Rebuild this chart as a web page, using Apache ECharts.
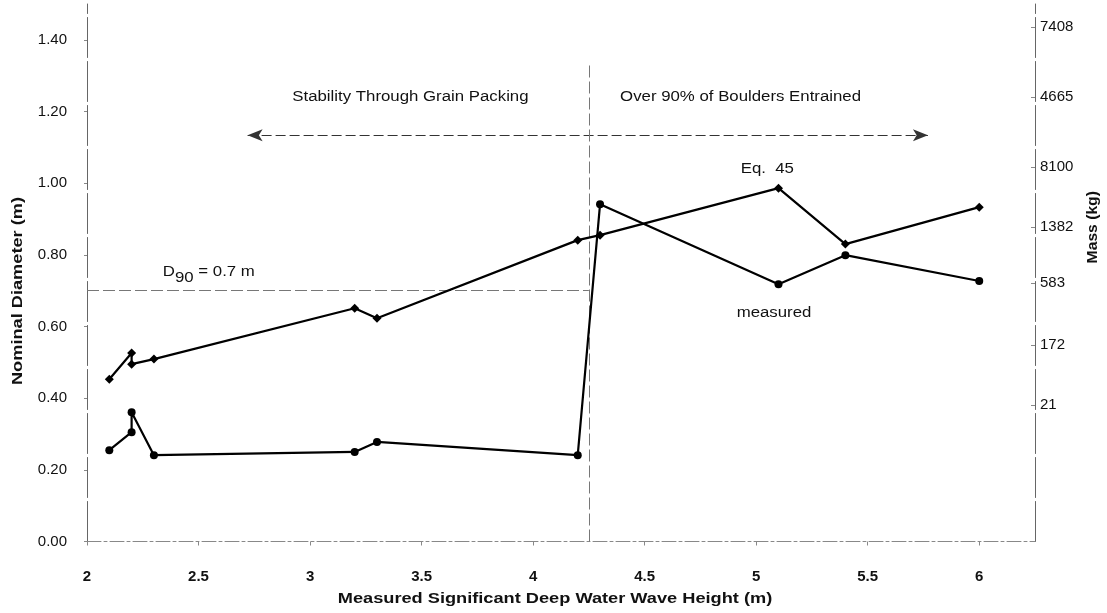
<!DOCTYPE html>
<html><head><meta charset="utf-8">
<script src="https://cdn.jsdelivr.net/npm/echarts@6/dist/echarts.min.js"></script>
<style>html,body{margin:0;padding:0;background:#fff}#c{width:1107px;height:613px}</style>
</head><body><div id="c"></div>
<script>
// ---- data ----
const waveHeight = [2.1, 2.2, 2.2, 2.3, 3.2, 3.3, 4.2, 4.3, 5.1, 5.4, 6.0];
const eq45 =       [0.453, 0.526, 0.495, 0.509, 0.651, 0.623, 0.841, 0.855, 0.986, 0.830, 0.933];
const measured =   [0.255, 0.305, 0.361, 0.241, 0.250, 0.278, 0.241, 0.941, 0.718, 0.799, 0.727];
const xTicks = [2, 2.5, 3, 3.5, 4, 4.5, 5, 5.5, 6];
const diameterTicks = [0, 0.2, 0.4, 0.6, 0.8, 1.0, 1.2, 1.4];
const massTickLabels = ['7408', '4665', '8100', '1382', '583', '172', '21'];
const massTickPositions = [1.435, 1.240, 1.045, 0.877, 0.721, 0.548, 0.380];
const d90 = 0.7;
const regionBoundary = 4.25;
const arrowSpan = [2.72, 5.77];
const arrowLevel = 1.134;
const regionTop = 1.33;

const FONT = 'Liberation Sans, Arial, sans-serif';
const chart = echarts.init(document.getElementById('c'));

function pairs(xs, ys) { return xs.map((x, i) => [x, ys[i]]); }

const option = {
  backgroundColor: '#fff',
  animation: false,
  grid: { left: 87, right: 72, top: 4, bottom: 71.5 },
  xAxis: {
    type: 'value', min: 2, max: 6.25,
    axisLine: { show: true, lineStyle: { color: '#888', width: 1, type: [14, 3, 3, 3] } },
    axisTick: { show: true, length: 4, inside: false, customValues: xTicks, lineStyle: { color: '#888' } },
    axisLabel: { customValues: xTicks, margin: 28, fontFamily: FONT, fontSize: 15, fontWeight: 'bold', color: '#111',
      formatter: v => String(v) },
    splitLine: { show: false }
  },
  yAxis: [{
    type: 'value', min: 0, max: 1.5, position: 'left',
    axisLine: { show: true, lineStyle: { color: '#666', width: 1, type: [40, 4] } },
    axisTick: { show: true, length: 3, customValues: diameterTicks, lineStyle: { color: '#888' } },
    axisLabel: { customValues: diameterTicks, margin: 20, fontFamily: FONT, fontSize: 15, color: '#111',
      formatter: v => v.toFixed(2) },
    splitLine: { show: false }
  }, {
    type: 'value', min: 0, max: 1.5, position: 'right',
    axisLine: { show: true, lineStyle: { color: '#666', width: 1, type: [40, 4] } },
    axisTick: { show: true, length: 4, inside: true, customValues: massTickPositions, lineStyle: { color: '#888' } },
    axisLabel: { customValues: massTickPositions, margin: 5, fontFamily: FONT, fontSize: 15, color: '#111',
      formatter: v => {
        let best = 0, bd = Infinity;
        massTickPositions.forEach((p, i) => { const d = Math.abs(p - v); if (d < bd) { bd = d; best = i; } });
        return massTickLabels[best];
      } },
    splitLine: { show: false }
  }],
  series: [{
    name: 'Eq. 45', type: 'line', data: pairs(waveHeight, eq45),
    symbol: 'diamond', symbolSize: 9, showAllSymbol: true,
    lineStyle: { color: '#000', width: 2.2 }, itemStyle: { color: '#000' },
    z: 5,
    markLine: {
      silent: true, symbol: ['arrow', 'arrow'], symbolSize: [9, 15],
      label: { show: false },
      lineStyle: { color: '#333', width: 1, type: [10, 4] },
      data: [[{ coord: [arrowSpan[0], arrowLevel] }, { coord: [arrowSpan[1], arrowLevel] }]]
    }
  }, {
    name: 'measured', type: 'line', data: pairs(waveHeight, measured),
    symbol: 'circle', symbolSize: 8, showAllSymbol: true,
    lineStyle: { color: '#000', width: 2.2 }, itemStyle: { color: '#000' },
    z: 5,
    markLine: {
      silent: true, symbol: 'none', label: { show: false },
      lineStyle: { color: '#777', width: 1, type: [12, 4] },
      data: [
        [{ coord: [2, d90] }, { coord: [regionBoundary, d90] }],
        [{ coord: [regionBoundary, 0] }, { coord: [regionBoundary, regionTop] }]
      ]
    }
  }]
};
chart.setOption(option);

// annotation text anchored in data coordinates (the scanned lettering is wide, hence scaleX)
const annotations = [
  { text: 'Stability Through Grain Packing', at: [3.45, 1.24] },
  { text: 'Over 90% of Boulders Entrained', at: [4.93, 1.24] },
  { text: 'Eq.  45', at: [5.05, 1.038] },
  { text: 'measured', at: [5.08, 0.637] }
];
const P = c => chart.convertToPixel({ xAxisIndex: 0, yAxisIndex: 0 }, c);
const graphics = annotations.map(a => {
  const p = P(a.at);
  return { type: 'text', x: p[0], y: p[1], scaleX: 1.2, silent: true,
    style: { text: a.text, fill: '#111', font: '14px ' + FONT, textAlign: 'center', textVerticalAlign: 'middle' } };
});
const dp = P([2.34, 0.751]);
graphics.push({ type: 'text', x: dp[0], y: dp[1], scaleX: 1.2, silent: true,
  style: { text: '{a|D}{s|90}{a| = 0.7 m}', textVerticalAlign: 'middle',
    rich: { a: { font: '14px ' + FONT, fill: '#111' }, s: { font: '14px ' + FONT, fill: '#111', padding: [12, 0, 0, 0] } } } });

// axis titles
const gridRect = { left: 87, right: 1035, top: 4, bottom: 541.5 };
graphics.push({ type: 'text', x: 555, y: gridRect.bottom + 58, scaleX: 1.3, silent: true,
  style: { text: 'Measured Significant Deep Water Wave Height (m)', font: 'bold 14px ' + FONT, fill: '#111',
    textAlign: 'center', textVerticalAlign: 'middle' } });
graphics.push({ type: 'text', x: gridRect.left - 69, y: 291, rotation: Math.PI / 2, scaleX: 1.3, silent: true,
  style: { text: 'Nominal Diameter (m)', font: 'bold 14px ' + FONT, fill: '#111', textAlign: 'center', textVerticalAlign: 'middle' } });
const mp = chart.convertToPixel({ xAxisIndex: 0, yAxisIndex: 1 }, [6.25, 0.877]);
graphics.push({ type: 'text', x: mp[0] + 58, y: mp[1], rotation: Math.PI / 2, scaleX: 1.12, silent: true,
  style: { text: 'Mass (kg)', font: 'bold 14px ' + FONT, fill: '#111', textAlign: 'center', textVerticalAlign: 'middle' } });
chart.setOption({ graphic: graphics });
</script>
</body></html>
